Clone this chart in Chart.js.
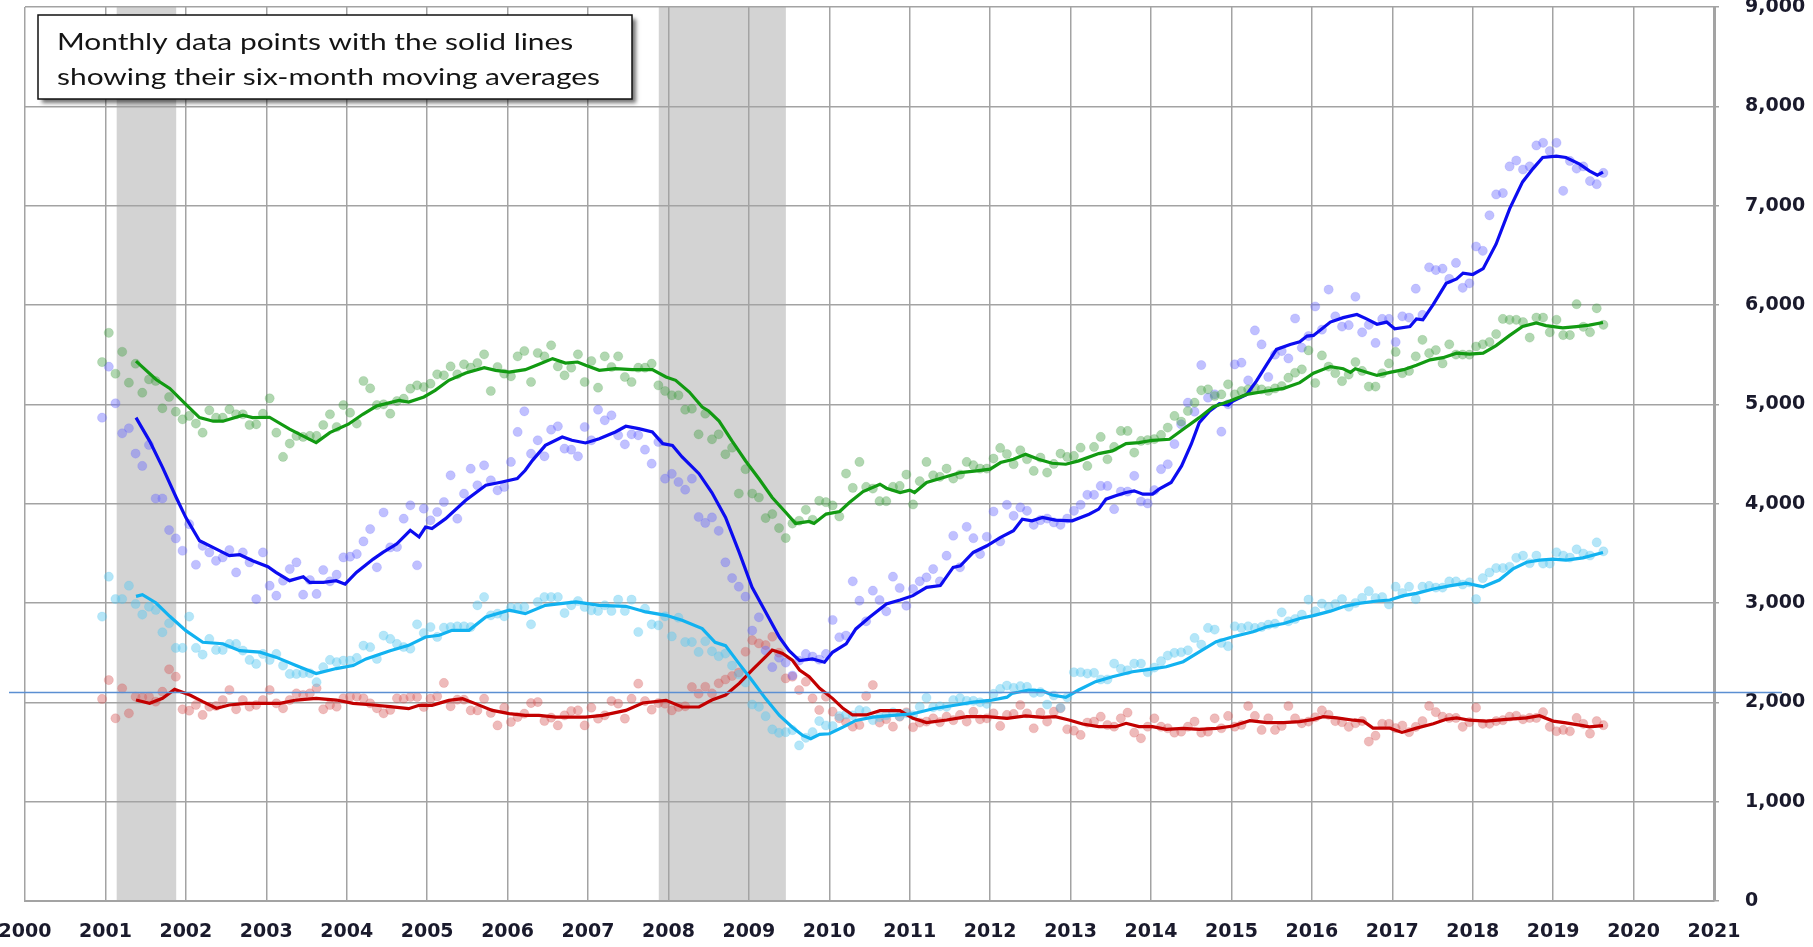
<!DOCTYPE html>
<html>
<head>
<meta charset="utf-8">
<title>Monthly data with six-month moving averages</title>
<script src="https://cdn.jsdelivr.net/npm/chart.js@4.4.1/dist/chart.umd.min.js"></script>
<style>
  html, body { margin: 0; padding: 0; background: #ffffff; }
  #chart { display: block; }
</style>
</head>
<body>
<canvas id="chart" width="1813" height="947"></canvas>
<script>
// monthly readings, Dec 2000 .. Aug 2019 (225 months)
const greenMonthly = [5425,
  5720, 5308, 5529, 5218, 5409, 5117, 5251, 5235, 4960, 5074, 4926, 4849,
  4883, 4806, 4715, 4940, 4866, 4866, 4950, 4900, 4900, 4792, 4799, 4906,
  5060, 4715, 4471, 4605, 4682, 4672, 4682, 4682, 4792, 4900, 4772, 4993,
  4916, 4806, 5235, 5161, 4993, 5000, 4906, 5033, 5057, 5158, 5191, 5174,
  5208, 5302, 5292, 5382, 5302, 5403, 5369, 5416, 5503, 5134, 5376, 5309,
  5282, 5483, 5537, 5225, 5517, 5483, 5594, 5382, 5292, 5369, 5503, 5225,
  5436, 5168, 5483, 5376, 5483, 5275, 5225, 5369, 5369, 5409, 5191, 5134,
  5091, 5091, 4946, 4956, 4698, 4906, 4648, 4698, 4497, 4564, 4102, 4347,
  4102, 4062, 3855, 3895, 3754, 3654, 3800, 3828, 3938, 3838, 4029, 4015,
  3982, 3871, 4303, 4159, 4420, 4169, 4152, 4025, 4025, 4169, 4179, 4293,
  3992, 4226, 4420, 4286, 4270, 4353, 4253, 4293, 4420, 4387, 4353, 4353,
  4454, 4561, 4500, 4397, 4538, 4447, 4330, 4464, 4313, 4400, 4504, 4471,
  4481, 4564, 4380, 4571, 4672, 4447, 4571, 4732, 4732, 4514, 4632, 4640,
  4650, 4692, 4766, 4883, 4826, 4933, 5017, 5141, 5151, 5084, 5100, 5201,
  5100, 5134, 5150, 5168, 5150, 5134, 5160, 5184, 5268, 5318, 5352, 5543,
  5215, 5492, 5380, 5313, 5233, 5300, 5425, 5336, 5179, 5179, 5313, 5412,
  5528, 5313, 5336, 5483, 5649, 5515, 5546, 5412, 5604, 5501, 5501, 5500,
  5582, 5604, 5627, 5707, 5860, 5851, 5851, 5828, 5672, 5873, 5873, 5725,
  5851, 5697, 5697, 6008, 5780, 5726, 5967, 5800];

const blueMonthly = [4866,
  5379, 5010, 4708, 4759, 4504, 4380, 4591, 4052, 4052, 3734, 3650, 3526,
  3794, 3385, 3576, 3509, 3425, 3459, 3533, 3308, 3509, 3409, 3040, 3509,
  3174, 3074, 3225, 3342, 3409, 3084, 3231, 3091, 3332, 3218, 3285, 3459,
  3466, 3493, 3620, 3744, 3359, 3911, 3560, 3564, 3849, 3983, 3380, 3950,
  3832, 3916, 4017, 4285, 3849, 4101, 4352, 4185, 4386, 4235, 4134, 4168,
  4420, 4722, 4930, 4503, 4638, 4477, 4745, 4779, 4554, 4544, 4477, 4772,
  4638, 4946, 4839, 4889, 4688, 4597, 4698, 4688, 4544, 4403, 4621, 4252,
  4300, 4218, 4141, 4252, 3866, 3806, 3861, 3727, 3409, 3251, 3164, 3064,
  2722, 2856, 2521, 2354, 2450, 2400, 2270, 2420, 2487, 2461, 2430, 2487,
  2829, 2655, 2672, 3218, 3023, 2816, 3124, 3030, 2916, 3265, 3151, 2973,
  3141, 3218, 3258, 3342, 3218, 3476, 3677, 3359, 3767, 3653, 3493, 3667,
  3921, 3620, 3988, 3878, 3962, 3928, 3787, 3834, 3850, 3811, 3787, 3850,
  3928, 3988, 4089, 4089, 4179, 4179, 3945, 4122, 4122, 4280, 4022, 4002,
  4136, 4347, 4397, 4600, 4799, 5017, 4926, 5395, 5067, 5101, 4725, 5000,
  5402, 5419, 5241, 5744, 5603, 5275, 5500, 5536, 5462, 5864, 5570, 5687,
  5985, 5752, 6155, 5886, 5783, 5797, 6083, 5725, 5800, 5618, 5860, 5860,
  5627, 5886, 5873, 6164, 5900, 6379, 6352, 6366, 6263, 6424, 6173, 6218,
  6589, 6545, 6903, 7113, 7127, 7395, 7454, 7364, 7395, 7606, 7633, 7550,
  7633, 7149, 7450, 7373, 7395, 7248, 7216, 7330];

const cyanMonthly = [2863,
  3265, 3040, 3040, 3174, 2990, 2883, 2963, 2930, 2705, 2796, 2548, 2548,
  2863, 2548, 2481, 2638, 2528, 2528, 2588, 2588, 2521, 2427, 2387, 2487,
  2427, 2487, 2370, 2286, 2286, 2293, 2293, 2203, 2354, 2427, 2404, 2420,
  2420, 2447, 2571, 2555, 2437, 2672, 2638, 2588, 2557, 2540, 2785, 2698,
  2758, 2658, 2752, 2758, 2765, 2765, 2758, 2977, 3060, 2876, 2893, 2866,
  2953, 2953, 2960, 2785, 3010, 3060, 3060, 3060, 2899, 2977, 3020, 2960,
  2926, 2920, 2977, 2920, 3034, 2920, 3034, 2708, 2943, 2785, 2775, 2866,
  2664, 2852, 2607, 2607, 2507, 2615, 2514, 2464, 2491, 2370, 2280, 2200,
  1978, 1955, 1861, 1727, 1693, 1700, 1720, 1566, 1643, 1700, 1811, 1767,
  1761, 1861, 1878, 1868, 1921, 1911, 1821, 1850, 1870, 1900, 1860, 1890,
  1870, 1955, 2045, 1950, 1960, 1955, 2022, 2042, 2015, 2015, 2000, 1985,
  2085, 2135, 2169, 2146, 2163, 2156, 2096, 2102, 1978, 2069, 1945, 2050,
  2303, 2303, 2290, 2297, 2230, 2230, 2390, 2337, 2323, 2390, 2390, 2303,
  2350, 2414, 2471, 2498, 2504, 2524, 2648, 2581, 2749, 2732, 2598, 2565,
  2766, 2749, 2766, 2749, 2759, 2782, 2792, 2906, 2816, 2839, 2883, 3034,
  2916, 2994, 2960, 2990, 3039, 2962, 3000, 3052, 3119, 3050, 3060, 2985,
  3164, 3100, 3164, 3039, 3164, 3172, 3155, 3155, 3217, 3217, 3186, 3208,
  3039, 3250, 3307, 3352, 3352, 3365, 3455, 3477, 3400, 3477, 3397, 3397,
  3511, 3478, 3457, 3540, 3498, 3478, 3610, 3520];

const redMonthly = [2034,
  2224, 1839, 2141, 1889, 2057, 2050, 2057, 2007, 2107, 2332, 2258, 1930,
  1916, 1973, 1873, 1956, 1963, 2023, 2124, 1930, 2023, 1956, 1973, 2023,
  2124, 1990, 1940, 2023, 2090, 2074, 2090, 2141, 1930, 1973, 1956, 2040,
  2057, 2057, 2040, 1990, 1940, 1889, 1923, 2040, 2037, 2054, 2054, 1953,
  2037, 2060, 2195, 1960, 2027, 2027, 1919, 1919, 2037, 1893, 1768, 1946,
  1802, 1852, 1886, 1993, 2003, 1812, 1846, 1768, 1869, 1913, 1919, 1768,
  1946, 1836, 1869, 2013, 1987, 1836, 2037, 2188, 2013, 1926, 1993, 1987,
  1919, 1953, 1960, 2154, 2087, 2157, 2090, 2191, 2230, 2265, 2300, 2509,
  2626, 2593, 2576, 2660, 2500, 2241, 2258, 2124, 2208, 2040, 1923, 2057,
  1906, 1839, 1800, 1755, 1772, 2064, 2174, 1796, 1830, 1755, 1856, 1900,
  1749, 1796, 1806, 1839, 1800, 1856, 1820, 1873, 1806, 1906, 1829, 1839,
  1889, 1762, 1873, 1883, 1973, 1889, 1739, 1896, 1806, 1906, 1940, 1729,
  1715, 1672, 1796, 1806, 1856, 1772, 1755, 1839, 1896, 1695, 1638, 1755,
  1839, 1755, 1739, 1695, 1705, 1755, 1806, 1695, 1705, 1839, 1739, 1863,
  1755, 1772, 1963, 1863, 1722, 1839, 1722, 1762, 1963, 1839, 1789, 1806,
  1850, 1919, 1874, 1811, 1800, 1753, 1790, 1811, 1605, 1664, 1784, 1784,
  1740, 1767, 1700, 1753, 1811, 1964, 1901, 1856, 1843, 1843, 1753, 1800,
  1946, 1784, 1784, 1811, 1820, 1856, 1865, 1829, 1843, 1843, 1901, 1753,
  1709, 1722, 1709, 1843, 1784, 1685, 1811, 1770];

// six-month moving averages: [year, value]
const greenAvg = [[2001.38,5435],[2001.63,5250],[2001.80,5160],[2002.00,5000],[2002.17,4866],[2002.34,4830],
  [2002.46,4830],[2002.71,4890],[2002.83,4866],[2003.04,4870],[2003.29,4750],[2003.46,4680],[2003.62,4615],
  [2003.79,4715],[2004.02,4800],[2004.20,4900],[2004.37,4983],[2004.54,5017],[2004.65,5040],[2004.77,5023],
  [2004.96,5074],[2005.10,5141],[2005.27,5242],[2005.48,5315],[2005.71,5369],[2005.85,5342],[2006.02,5325],
  [2006.22,5349],[2006.39,5403],[2006.56,5460],[2006.72,5416],[2006.87,5426],[2006.97,5393],[2007.14,5342],
  [2007.34,5359],[2007.55,5349],[2007.80,5349],[2007.97,5275],[2008.09,5242],[2008.26,5124],[2008.42,4973],
  [2008.50,4933],[2008.63,4832],[2008.79,4631],[2008.96,4430],[2009.13,4246],[2009.29,4062],[2009.46,3911],
  [2009.58,3801],[2009.75,3821],[2009.81,3801],[2009.96,3895],[2010.13,3921],[2010.25,4012],[2010.42,4122],
  [2010.63,4196],[2010.71,4156],[2010.88,4112],[2011.00,4136],[2011.06,4112],[2011.21,4213],[2011.42,4263],
  [2011.63,4313],[2011.83,4330],[2012.00,4347],[2012.13,4414],[2012.29,4447],[2012.44,4498],[2012.60,4447],
  [2012.77,4407],[2012.94,4397],[2013.10,4431],[2013.35,4504],[2013.52,4531],[2013.69,4605],[2013.85,4615],
  [2014.02,4638],[2014.23,4648],[2014.40,4749],[2014.60,4866],[2014.77,4973],[2014.98,5033],[2015.19,5100],
  [2015.44,5134],[2015.65,5161],[2015.85,5218],[2016.02,5313],[2016.23,5380],[2016.39,5358],[2016.48,5322],
  [2016.54,5358],[2016.68,5322],[2016.81,5291],[2016.97,5322],[2017.14,5349],[2017.30,5394],[2017.47,5448],
  [2017.63,5470],[2017.80,5515],[2017.96,5506],[2018.13,5515],[2018.29,5591],[2018.46,5694],[2018.62,5783],
  [2018.79,5819],[2018.91,5792],[2019.12,5770],[2019.29,5783],[2019.45,5797],[2019.62,5824]];

const blueAvg = [[2001.38,4866],[2001.55,4630],[2001.71,4365],[2001.88,4062],[2002.00,3860],[2002.17,3627],
  [2002.38,3543],[2002.54,3476],[2002.67,3486],[2002.83,3425],[2003.02,3365],[2003.12,3308],[2003.29,3225],
  [2003.46,3265],[2003.54,3208],[2003.71,3208],[2003.87,3225],[2003.98,3190],[2004.12,3308],[2004.33,3442],
  [2004.45,3510],[2004.62,3593],[2004.79,3732],[2004.90,3665],[2004.98,3765],[2005.06,3749],[2005.23,3849],
  [2005.48,4034],[2005.73,4185],[2005.93,4218],[2006.12,4252],[2006.22,4336],[2006.31,4436],[2006.47,4587],
  [2006.68,4671],[2006.80,4638],[2006.97,4611],[2007.14,4654],[2007.34,4722],[2007.47,4779],[2007.63,4755],
  [2007.80,4722],[2007.93,4604],[2008.05,4587],[2008.17,4470],[2008.38,4302],[2008.54,4112],[2008.71,3861],
  [2008.88,3509],[2009.04,3158],[2009.21,2906],[2009.38,2655],[2009.50,2521],[2009.63,2420],[2009.79,2437],
  [2009.94,2404],[2010.04,2504],[2010.21,2588],[2010.33,2739],[2010.50,2856],[2010.71,2990],[2010.88,3030],
  [2011.04,3074],[2011.21,3158],[2011.38,3175],[2011.54,3359],[2011.63,3375],[2011.79,3509],[2011.96,3576],
  [2012.13,3660],[2012.29,3727],[2012.40,3844],[2012.52,3827],[2012.65,3861],[2012.81,3834],[2013.02,3827],
  [2013.23,3894],[2013.35,3945],[2013.44,4045],[2013.56,4079],[2013.69,4112],[2013.79,4129],[2013.90,4096],
  [2014.02,4096],[2014.10,4146],[2014.25,4213],[2014.38,4380],[2014.50,4598],[2014.60,4816],[2014.73,4933],
  [2014.85,5007],[2014.96,4993],[2015.02,5033],[2015.19,5100],[2015.31,5234],[2015.44,5402],[2015.56,5553],
  [2015.73,5603],[2015.85,5630],[2015.94,5687],[2016.02,5694],[2016.23,5828],[2016.39,5873],[2016.56,5904],
  [2016.68,5860],[2016.81,5806],[2016.93,5828],[2017.03,5761],[2017.22,5783],[2017.30,5860],[2017.38,5851],
  [2017.51,6007],[2017.67,6218],[2017.80,6263],[2017.88,6321],[2018.00,6307],[2018.13,6366],[2018.29,6612],
  [2018.46,6970],[2018.62,7239],[2018.75,7373],[2018.87,7485],[2019.04,7498],[2019.16,7485],[2019.33,7418],
  [2019.45,7351],[2019.55,7306],[2019.62,7337]];

const cyanAvg = [[2001.38,3067],[2001.46,3084],[2001.63,3000],[2001.80,2866],[2002.00,2722],[2002.21,2605],
  [2002.46,2590],[2002.67,2520],[2002.92,2505],[2003.12,2455],[2003.37,2370],[2003.62,2290],[2003.87,2340],
  [2004.08,2370],[2004.24,2437],[2004.54,2520],[2004.77,2574],[2004.98,2658],[2005.15,2675],[2005.31,2725],
  [2005.52,2725],[2005.73,2860],[2006.02,2927],[2006.22,2893],[2006.47,2977],[2006.85,3011],[2007.14,2977],
  [2007.47,2967],[2007.72,2910],[2007.97,2876],[2008.17,2826],[2008.42,2742],[2008.58,2605],[2008.71,2571],
  [2008.88,2387],[2009.04,2220],[2009.21,2035],[2009.38,1868],[2009.54,1750],[2009.67,1667],[2009.77,1633],
  [2009.88,1677],[2010.00,1684],[2010.17,1750],[2010.33,1818],[2010.54,1851],[2010.79,1868],[2011.04,1885],
  [2011.29,1935],[2011.54,1968],[2011.79,2002],[2012.00,2019],[2012.21,2052],[2012.27,2090],[2012.48,2124],
  [2012.65,2117],[2012.77,2074],[2012.94,2050],[2013.10,2124],[2013.31,2208],[2013.52,2258],[2013.77,2308],
  [2013.98,2332],[2014.19,2358],[2014.40,2409],[2014.60,2509],[2014.81,2610],[2015.02,2660],[2015.27,2710],
  [2015.44,2761],[2015.65,2794],[2015.85,2844],[2016.02,2873],[2016.23,2918],[2016.39,2962],[2016.56,2994],
  [2016.81,3020],[2016.97,3030],[2017.14,3074],[2017.30,3097],[2017.51,3141],[2017.71,3172],[2017.92,3199],
  [2018.13,3164],[2018.33,3231],[2018.50,3343],[2018.67,3410],[2018.83,3432],[2019.00,3441],[2019.16,3432],
  [2019.37,3455],[2019.62,3508]];

const redAvg = [[2001.38,2023],[2001.55,1990],[2001.71,2040],[2001.86,2130],[2002.05,2074],[2002.21,2007],
  [2002.38,1940],[2002.54,1973],[2002.75,1990],[2002.96,1990],[2003.17,1990],[2003.37,2023],[2003.62,2040],
  [2003.87,2023],[2004.08,1990],[2004.33,1973],[2004.54,1956],[2004.77,1936],[2004.90,1970],[2005.06,1970],
  [2005.27,2020],[2005.44,2037],[2005.60,1987],[2005.81,1919],[2006.02,1886],[2006.22,1869],[2006.39,1869],
  [2006.60,1852],[2006.97,1852],[2007.18,1869],[2007.47,1919],[2007.68,1993],[2007.97,2020],[2008.17,1953],
  [2008.38,1953],[2008.54,2023],[2008.71,2074],[2008.88,2191],[2009.04,2325],[2009.21,2459],[2009.29,2526],
  [2009.42,2492],[2009.54,2425],[2009.63,2325],[2009.75,2258],[2009.88,2141],[2010.04,2040],[2010.17,1940],
  [2010.29,1873],[2010.46,1873],[2010.63,1916],[2010.88,1916],[2011.04,1839],[2011.21,1796],[2011.46,1822],
  [2011.71,1856],[2011.96,1856],[2012.21,1839],[2012.44,1863],[2012.65,1849],[2012.81,1856],[2012.98,1822],
  [2013.15,1782],[2013.35,1755],[2013.56,1755],[2013.69,1789],[2013.85,1755],[2014.02,1755],[2014.19,1728],
  [2014.40,1738],[2014.60,1728],[2014.81,1738],[2015.02,1762],[2015.23,1815],[2015.44,1796],[2015.65,1796],
  [2015.85,1806],[2016.02,1829],[2016.14,1856],[2016.31,1843],[2016.52,1820],[2016.64,1811],[2016.76,1740],
  [2016.97,1740],[2017.12,1697],[2017.30,1740],[2017.51,1784],[2017.67,1829],[2017.80,1843],[2017.96,1820],
  [2018.17,1811],[2018.42,1829],[2018.67,1843],[2018.83,1865],[2019.00,1811],[2019.16,1793],[2019.37,1766],
  [2019.45,1753],[2019.62,1766]];

// shaded recessions (start year, end year)
const recessions = [[2001.14, 2001.88], [2007.88, 2009.46]];
// thin reference line across the chart
const refLineValue = 2105;
const noteLines = ['Monthly data points with the solid lines', 'showing their six-month moving averages'];

const xMin = 2000, xMax = 2021;
const yMin = 0, yMax = 9000, yStep = 1000;

// first monthly point is December 2000, plotted mid-month
function monthX(i) {
    return 2000 + (11 + i + 0.5) / 12;
}
const toPoints = vals => vals.map((v, i) => ({ x: monthX(i), y: v }));
const toLine = pairs => pairs.map(p => ({ x: p[0], y: p[1] }));

const dotSet = (vals, color, edge) => ({
    data: toPoints(vals),
    showLine: false,
    pointRadius: 4.6,
    pointHoverRadius: 4.6,
    pointBorderWidth: 1,
    backgroundColor: color,
    borderColor: edge,
    order: 2
});
const lineSet = (pairs, color) => ({
    data: toLine(pairs),
    showLine: true,
    pointRadius: 0,
    borderColor: color,
    borderWidth: 3.2,
    tension: 0,
    order: 1
});

// recession bands under the grid
const bandsPlugin = {
    id: 'bands',
    beforeDraw(chart) {
        const { ctx, chartArea, scales } = chart;
        ctx.save();
        ctx.fillStyle = '#d3d3d3';
        recessions.forEach(r => {
            const x0 = scales.x.getPixelForValue(r[0]);
            const x1 = scales.x.getPixelForValue(r[1]);
            ctx.fillRect(x0, chartArea.top, x1 - x0, chartArea.bottom - chartArea.top);
        });
        ctx.restore();
    }
};

// the thin blue line, it runs a little past both sides of the plot
const refLinePlugin = {
    id: 'refLine',
    afterDatasetsDraw(chart) {
        const { ctx, chartArea, scales } = chart;
        const y = Math.round(scales.y.getPixelForValue(refLineValue)) + 0.5;
        ctx.save();
        ctx.strokeStyle = '#5b8fd2';
        ctx.lineWidth = 1.5;
        ctx.beginPath();
        ctx.moveTo(chartArea.left - 16, y);
        ctx.lineTo(chartArea.right + 68, y);
        ctx.stroke();
        ctx.restore();
    }
};

// text box in the top left corner
const notePlugin = {
    id: 'note',
    afterDraw(chart) {
        const { ctx, chartArea } = chart;
        const left = chartArea.left + 13, top = 15, w = 594, h = 84;
        ctx.save();
        ctx.shadowColor = 'rgba(0,0,0,0.55)';
        ctx.shadowBlur = 4;
        ctx.shadowOffsetX = 4;
        ctx.shadowOffsetY = 4;
        ctx.fillStyle = '#ffffff';
        ctx.fillRect(left, top, w, h);
        ctx.restore();

        ctx.save();
        ctx.strokeStyle = '#111111';
        ctx.lineWidth = 1.5;
        ctx.strokeRect(left, top, w, h);
        ctx.font = '24px Lato';
        ctx.fillStyle = '#141414';
        ctx.textBaseline = 'middle';
        const sx = 543 / ctx.measureText(noteLines[1]).width;
        noteLines.forEach((line, i) => {
            ctx.save();
            ctx.translate(left + 19, top + 27 + i * 35);
            ctx.scale(sx, 1);
            ctx.fillText(line, 0, 0);
            ctx.restore();
        });
        ctx.restore();
    }
};

const ctx = document.getElementById('chart').getContext('2d');
new Chart(ctx, {
    type: 'scatter',
    data: {
        datasets: [
            dotSet(greenMonthly, 'rgba(70,160,70,0.42)', 'rgba(70,160,70,0.18)'),
            dotSet(blueMonthly, 'rgba(105,105,255,0.42)', 'rgba(105,105,255,0.18)'),
            dotSet(cyanMonthly, 'rgba(90,200,240,0.45)', 'rgba(90,200,240,0.2)'),
            dotSet(redMonthly, 'rgba(215,90,90,0.42)', 'rgba(215,90,90,0.18)'),
            lineSet(greenAvg, '#129a12'),
            lineSet(blueAvg, '#0c0cf0'),
            lineSet(cyanAvg, '#12b2f0'),
            lineSet(redAvg, '#c20000')
        ]
    },
    options: {
        responsive: false,
        devicePixelRatio: 1,
        animation: false,
        events: [],
        layout: { padding: { left: 25, top: 7, right: 0, bottom: 0 } },
        plugins: {
            legend: { display: false },
            tooltip: { enabled: false }
        },
        scales: {
            x: {
                type: 'linear',
                min: xMin,
                max: xMax,
                afterFit: s => { s.height = 46; s.paddingLeft = 0; s.paddingRight = 0; },
                grid: { color: '#a3a3a3', lineWidth: 1.5, drawTicks: false },
                border: { color: '#a3a3a3', width: 2 },
                ticks: {
                    stepSize: 1,
                    autoSkip: false,
                    maxRotation: 0,
                    padding: 20,
                    color: '#1a1a2c',
                    font: { family: 'DejaVu Sans', size: 19, weight: 'bold' },
                    callback: v => String(v)
                }
            },
            y: {
                position: 'right',
                min: yMin,
                max: yMax,
                afterFit: s => { s.width = 99; s.paddingTop = 0; s.paddingBottom = 0; },
                grid: { color: '#a3a3a3', lineWidth: 1.5, tickLength: 5 },
                border: { color: '#a3a3a3', width: 3 },
                ticks: {
                    stepSize: yStep,
                    padding: 26,
                    color: '#1a1a2c',
                    font: { family: 'DejaVu Sans', size: 19, weight: 'bold' },
                    callback: v => v.toLocaleString('en-US')
                }
            }
        }
    },
    plugins: [bandsPlugin, refLinePlugin, notePlugin]
});
</script>
</body>
</html>
